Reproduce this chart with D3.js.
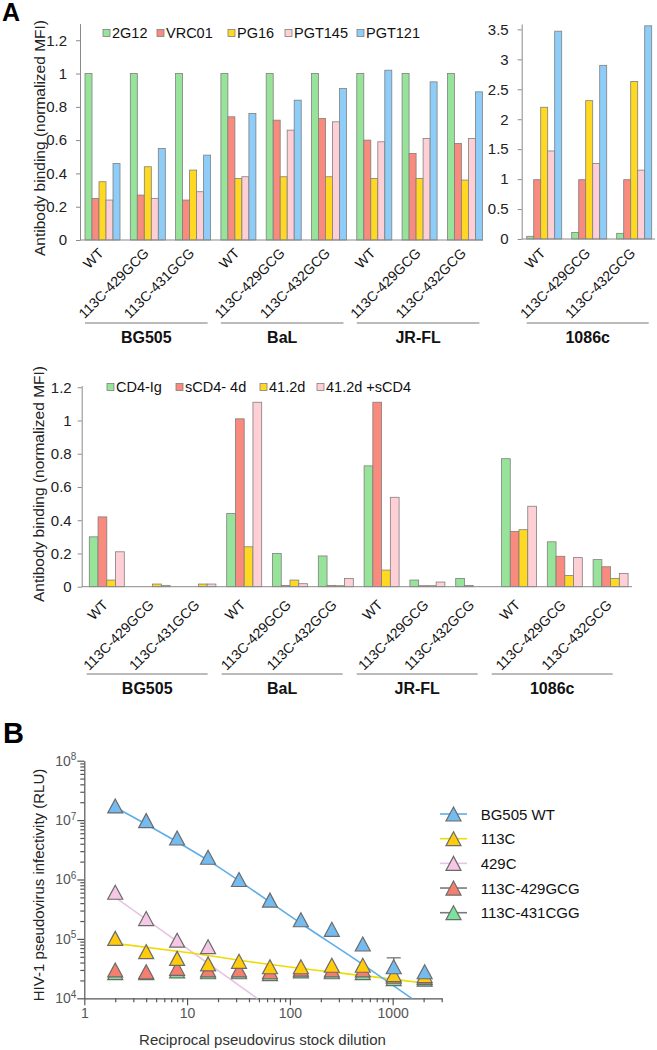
<!DOCTYPE html>
<html>
<head>
<meta charset="utf-8">
<script src="https://cdnjs.cloudflare.com/ajax/libs/d3/7.8.5/d3.min.js"></script>
<style>
  body { margin: 0; background: #fff; }
  svg { display: block; font-family: Arial, "Liberation Sans", sans-serif; }
</style>
</head>
<body>
<svg id="fig" width="657" height="1050"></svg>
<script>
// ---------- data: panel A, top (antibody binding) ----------
const abNames = ["2G12", "VRC01", "PG16", "PGT145", "PGT121"];
const topCats = ["WT", "113C-429GCG", "113C-431GCG", "WT", "113C-429GCG", "113C-432GCG", "WT", "113C-429GCG", "113C-432GCG"];
const topStrains = ["BG505", "BaL", "JR-FL"];
const v2G12   = [1, 1, 1, 1, 1, 1, 1, 1, 1];
const vVRC01  = [0.25, 0.27, 0.24, 0.74, 0.72, 0.73, 0.60, 0.52, 0.58];
const vPG16   = [0.35, 0.44, 0.42, 0.37, 0.38, 0.38, 0.37, 0.37, 0.36];
const vPGT145 = [0.24, 0.25, 0.29, 0.38, 0.66, 0.71, 0.59, 0.61, 0.61];
const vPGT121 = [0.46, 0.55, 0.51, 0.76, 0.84, 0.91, 1.02, 0.95, 0.89];
const topTicks = [0, 0.2, 0.4, 0.6, 0.8, 1, 1.2];

// 1086c panel
const c1086Cats = ["WT", "113C-429GCG", "113C-432GCG"];
const c1086Strain = ["1086c"];
const c2G12   = [0.045, 0.11, 0.095];
const cVRC01  = [0.99, 0.99, 0.99];
const cPG16   = [2.2, 2.31, 2.63];
const cPGT145 = [1.47, 1.26, 1.15];
const cPGT121 = [3.47, 2.90, 3.56];
const c1086Ticks = [0, 0.5, 1, 1.5, 2, 2.5, 3, 3.5];

// ---------- data: panel A, middle (CD4 / CD4i) ----------
const cd4Names = ["CD4-Ig", "sCD4- 4d", "41.2d", "41.2d +sCD4"];
const midCats = ["WT", "113C-429GCG", "113C-431GCG", "WT", "113C-429GCG", "113C-432GCG", "WT", "113C-429GCG", "113C-432GCG", "WT", "113C-429GCG", "113C-432GCG"];
const midStrains = ["BG505", "BaL", "JR-FL", "1086c"];
const vCD4Ig  = [0.30, 0, 0, 0.44, 0.20, 0.185, 0.727, 0.04, 0.05, 0.77, 0.27, 0.163];
const vSCD4   = [0.42, 0, 0, 1.01, 0.008, 0.008, 1.11, 0.006, 0.008, 0.333, 0.183, 0.12];
const v412d   = [0.04, 0.016, 0.016, 0.24, 0.04, 0.006, 0.10, 0.006, 0, 0.343, 0.068, 0.05];
const v412dS  = [0.21, 0.008, 0.016, 1.11, 0.018, 0.05, 0.538, 0.028, 0, 0.484, 0.175, 0.08];
const midTicks = [0, 0.2, 0.4, 0.6, 0.8, 1, 1.2];

// ---------- data: panel B (infectivity) ----------
const dilution = [2, 4, 8, 16, 32, 64, 128, 256, 512, 1024, 2048];
const rluWT      = [1.73e7, 9.8e6, 5.0e6, 2.37e6, 1.0e6, 4.5e5, 2.1e5, 1.45e5, 8.2e4, 3.4e4, 2.8e4];
const rluWTerr   = [0, 0, 0, 0, 0, 0, 0, 0, 0, 4.8e4, 0];
const rlu113C    = [1.02e5, 6.1e4, 4.7e4, 3.8e4, 4.2e4, 3.4e4, 3.4e4, 3.6e4, 3.6e4, 2.5e4, 2.4e4];
const rlu429C    = [6.1e5, 2.2e5, 9.5e4, 7.4e4];
const rlu429GCG  = [3.0e4, 2.8e4, 3.2e4, 3.0e4, 3.0e4, 2.8e4, 3.1e4, 3.0e4, 3.0e4, 2.35e4, 2.25e4];
const rlu431CGG  = [2.7e4, 2.7e4, 2.9e4, 2.8e4, 2.8e4, 2.6e4, 2.9e4, 2.8e4, 2.7e4, 2.15e4, 2.1e4];
const fitWT   = [[2, 1.65e7], [16, 2.1e6], [136, 1.7e5], [481, 4.0e4], [1530, 1.0e4]];
const fit113C = [[2, 8.4e4], [10, 5.9e4], [64, 3.7e4], [1000, 2.1e4], [2048, 1.8e4]];
const fit429C = [[2, 5.0e5], [48, 1.0e4]];
const bLegend = ["BG505 WT", "113C", "429C", "113C-429GCG", "113C-431CGG"];

// ---------- styling ----------
const barColors = ["#98E39A", "#F88A7E", "#FFD822", "#FFCFD6", "#8DCDF7"];
const edge = "#7f7f7f";
const axisGray = "#8a8a8a";
const font = 'Arial, "Liberation Sans", sans-serif';

const svg = d3.select("#fig");

function drawBars(g, x, y, series, colors) {
  const inner = d3.scaleBand().domain(d3.range(series.length)).range([0, x.bandwidth()]);
  x.domain().forEach(i => {
    const grp = g.append("g").attr("transform", `translate(${x(i)},0)`);
    grp.selectAll("rect")
      .data(series.map((s, k) => ({ k, v: s[i] })).filter(d => d.v > 0))
      .join("rect")
      .attr("x", d => inner(d.k))
      .attr("width", inner.bandwidth())
      .attr("y", d => y(d.v))
      .attr("height", d => y(0) - y(d.v))
      .attr("fill", d => colors[d.k])
      .attr("stroke", edge)
      .attr("stroke-width", 0.8);
  });
}

function drawYAxis(g, y, xPos, ticks, pad) {
  const ax = g.append("g")
    .attr("transform", `translate(${xPos},0)`)
    .call(d3.axisLeft(y).tickValues(ticks).tickSize(4).tickSizeOuter(0)
      .tickPadding(pad).tickFormat(d3.format("~g")));
  ax.select(".domain").attr("stroke", axisGray);
  ax.selectAll(".tick line").attr("stroke", axisGray);
  ax.selectAll("text").attr("font-size", 15).attr("fill", "#222").attr("font-family", font);
}

function drawBaseline(g, y, x0, x1) {
  g.append("line").attr("x1", x0).attr("x2", x1)
    .attr("y1", y(0)).attr("y2", y(0))
    .attr("stroke", axisGray).attr("stroke-width", 1);
}

function drawCatLabels(g, x, y, cats, off) {
  g.selectAll("text.cat").data(cats).join("text")
    .attr("class", "cat")
    .attr("text-anchor", "end")
    .attr("font-size", 14)
    .attr("fill", "#111")
    .attr("transform", (d, i) => `translate(${x(i) + x.bandwidth() / 2 + 2},${y(0) + off}) rotate(-45)`)
    .text(d => d);
}

function drawStrain(g, name, x0, x1, lineY) {
  g.append("line").attr("x1", x0).attr("x2", x1).attr("y1", lineY).attr("y2", lineY)
    .attr("stroke", "#777").attr("stroke-width", 1);
  g.append("text").attr("x", (x0 + x1) / 2).attr("y", lineY + 20)
    .attr("text-anchor", "middle").attr("font-weight", "bold").attr("font-size", 16)
    .attr("fill", "#111").text(name);
}

function drawLegend(g, names, colors, xs, yc) {
  names.forEach((n, i) => {
    g.append("rect").attr("x", xs[i]).attr("y", yc - 3.5).attr("width", 7).attr("height", 7)
      .attr("fill", colors[i]).attr("stroke", edge).attr("stroke-width", 0.8);
    g.append("text").attr("x", xs[i] + 9).attr("y", yc).attr("dominant-baseline", "central")
      .attr("font-size", 14.5).attr("fill", "#111").text(n);
  });
}

function yTitle(g, text, cx, cy, size) {
  g.append("text").attr("transform", `translate(${cx},${cy}) rotate(-90)`)
    .attr("text-anchor", "middle").attr("dominant-baseline", "central")
    .attr("font-size", size).attr("fill", "#222").text(text);
}

// ---------- panel A top-left ----------
const gT = svg.append("g");
const topY = d3.scaleLinear().domain([0, 1.3]).range([240, 23.6]);
const topX = d3.scaleBand().domain(d3.range(topCats.length)).range([85, 482.4]).paddingInner(0.227);
drawBars(gT, topX, topY, [v2G12, vVRC01, vPG16, vPGT145, vPGT121], barColors);
drawBaseline(gT, topY, 80, 483);
drawYAxis(gT, topY, 80, topTicks, 9);
drawCatLabels(gT, topX, topY, topCats, 14);
topStrains.forEach((s, k) => {
  const a = topX(k * 3), b = topX(k * 3 + 2) + topX.bandwidth();
  drawStrain(gT, s, a, b - 3, 323);
});
drawLegend(gT, abNames, barColors, [103, 157, 228, 285, 357], 33);
yTitle(gT, "Antibody binding (normalized MFI)", 39, 138, 15.5);

// ---------- panel A top-right (1086c) ----------
const gR = svg.append("g");
const rY = d3.scaleLinear().domain([0, 3.59]).range([239, 24]);
const rX = d3.scaleBand().domain(d3.range(c1086Cats.length)).range([526.7, 651.7]).paddingInner(0.222);
drawBars(gR, rX, rY, [c2G12, cVRC01, cPG16, cPGT145, cPGT121], barColors);
drawBaseline(gR, rY, 521.7, 655);
drawYAxis(gR, rY, 521.7, c1086Ticks, 9);
drawCatLabels(gR, rX, rY, c1086Cats, 15);
drawStrain(gR, c1086Strain[0], rX(0), rX(2) + rX.bandwidth() - 3, 323);

// ---------- panel A middle ----------
const gM = svg.append("g");
const mY = d3.scaleLinear().domain([0, 1.21]).range([586.7, 385.6]);
const mX = d3.scaleBand().domain(d3.range(midCats.length)).range([89.3, 628.1]).paddingInner(0.236);
drawBars(gM, mX, mY, [vCD4Ig, vSCD4, v412d, v412dS], barColors);
drawBaseline(gM, mY, 81.7, 632);
drawYAxis(gM, mY, 81.7, midTicks, 6);
drawCatLabels(gM, mX, mY, midCats, 19);
const mStrainX = d3.scaleBand().domain(midStrains).range([86.7, 612.7]).paddingInner(0.104);
midStrains.forEach(s => drawStrain(gM, s, mStrainX(s), mStrainX(s) + mStrainX.bandwidth(), 674));
drawLegend(gM, cd4Names, barColors, [107, 176, 260, 317], 387);
yTitle(gM, "Antibody binding (normalized MFI)", 38, 484, 15.5);

// ---------- panel B ----------
const gB = svg.append("g");
const bx = d3.scaleLog().domain([1, 3000]).range([84.3, 441.7]);
const by = d3.scaleLog().domain([1e4, 1e8]).range([998.3, 760.7]);
const bAxisCol = "#555";
const xMajor = [1, 10, 100, 1000];
const yMajor = [1e4, 1e5, 1e6, 1e7, 1e8];

const xa = gB.append("g").attr("transform", `translate(0,${by(1e4)})`)
  .call(d3.axisBottom(bx).tickValues(xMajor).tickFormat(d3.format("d")).tickSize(7).tickSizeOuter(0).tickPadding(3));
const xm = gB.append("g").attr("transform", `translate(0,${by(1e4)})`)
  .call(d3.axisBottom(bx).tickValues(bx.ticks().filter(v => !xMajor.includes(v))).tickSize(4).tickSizeOuter(0).tickFormat(""));
xm.select(".domain").remove();
const ya = gB.append("g").attr("transform", `translate(${bx(1)},0)`)
  .call(d3.axisLeft(by).tickValues(yMajor).tickSize(7).tickSizeOuter(0).tickPadding(1).tickFormat(""));
const ym = gB.append("g").attr("transform", `translate(${bx(1)},0)`)
  .call(d3.axisLeft(by).tickValues(by.ticks().filter(v => !yMajor.includes(v))).tickSize(4).tickSizeOuter(0).tickFormat(""));
ym.select(".domain").remove();
[xa, xm, ya, ym].forEach(a => {
  a.selectAll(".domain, .tick line").attr("stroke", bAxisCol).attr("stroke-width", 1.2);
});
xa.selectAll("text").attr("font-size", 14).attr("fill", "#555").attr("font-family", font);
ya.selectAll(".tick text").each(function (d) {
  const t = d3.select(this).attr("font-size", 14).attr("fill", "#555").attr("font-family", font);
  t.text("10");
  t.append("tspan").attr("dy", "-0.55em").attr("font-size", 10).text(Math.round(Math.log10(d)));
});

const markerPath = "M0,-7L7.5,7L-7.5,7Z";
const mStroke = "#6b6b6b";
const line = d3.line().x(d => bx(d[0])).y(d => by(d[1])).curve(d3.curveMonotoneX);

gB.append("path").datum(fit429C).attr("d", line).attr("fill", "none").attr("stroke", "#E8C3E4").attr("stroke-width", 1.6);
gB.append("path").datum(fit113C).attr("d", line).attr("fill", "none").attr("stroke", "#EEDB00").attr("stroke-width", 1.6);
gB.append("path").datum(fitWT).attr("d", line).attr("fill", "none").attr("stroke", "#5DADE8").attr("stroke-width", 1.6);

const seriesB = [
  { vals: rlu429C, fill: "#F7C7E6" },
  { vals: rlu431CGG, fill: "#78E39A" },
  { vals: rlu429GCG, fill: "#F57F6E" },
  { vals: rlu113C, fill: "#FFCB0A" },
  { vals: rluWT, fill: "#74BBEF" }
];

// error bar (only visible one)
const errPts = dilution.map((d, i) => ({ d, v: rluWT[i], e: rluWTerr[i] })).filter(p => p.e > 0);
errPts.forEach(p => {
  gB.append("line").attr("x1", bx(p.d)).attr("x2", bx(p.d)).attr("y1", by(p.v)).attr("y2", by(p.e))
    .attr("stroke", mStroke).attr("stroke-width", 1.2);
  gB.append("line").attr("x1", bx(p.d) - 7).attr("x2", bx(p.d) + 7).attr("y1", by(p.e)).attr("y2", by(p.e))
    .attr("stroke", mStroke).attr("stroke-width", 1.2);
});

seriesB.forEach(s => {
  gB.append("g").selectAll("path")
    .data(s.vals.map((v, i) => [dilution[i], v]))
    .join("path")
    .attr("d", markerPath)
    .attr("transform", d => `translate(${bx(d[0])},${by(d[1])})`)
    .attr("fill", s.fill).attr("stroke", mStroke).attr("stroke-width", 1.2);
});

// legend B
const legLineCols = ["#5DADE8", "#EEDB00", "#E8C3E4", "#7a7a7a", "#7a7a7a"];
const legFills = ["#74BBEF", "#FFCB0A", "#F7C7E6", "#F57F6E", "#78E39A"];
const legY = d3.scalePoint().domain(bLegend).range([814, 912.7]);
bLegend.forEach((n, i) => {
  const yy = legY(n);
  gB.append("line").attr("x1", 440).attr("x2", 467).attr("y1", yy).attr("y2", yy)
    .attr("stroke", legLineCols[i]).attr("stroke-width", 1.6);
  gB.append("path").attr("d", markerPath).attr("transform", `translate(453.5,${yy})`)
    .attr("fill", legFills[i]).attr("stroke", mStroke).attr("stroke-width", 1.2);
  gB.append("text").attr("x", 480.7).attr("y", yy).attr("dominant-baseline", "central")
    .attr("font-size", 15).attr("fill", "#111").text(n);
});

yTitle(gB, "HIV-1 pseudovirus infectivity (RLU)", 38, 885, 15);
gB.append("text").attr("x", 262.5).attr("y", 1045).attr("text-anchor", "middle")
  .attr("font-size", 15).attr("fill", "#333").text("Reciprocal pseudovirus stock dilution");

// panel letters
svg.append("text").attr("x", 2).attr("y", 21).attr("font-weight", "bold").attr("font-size", 25).text("A");
svg.append("text").attr("x", 3).attr("y", 743).attr("font-weight", "bold").attr("font-size", 29).text("B");
</script>
</body>
</html>
